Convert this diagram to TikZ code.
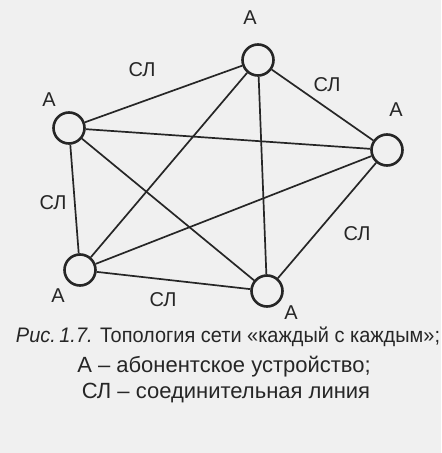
\documentclass[tikz,border=0pt]{standalone}
\usepackage{fontspec}
\setmainfont{Liberation Sans}
\newfontfamily\narrowfont[FakeStretch=0.95]{Liberation Sans}
\usepackage{tikz}

\begin{document}
\begin{tikzpicture}[x=1pt,y=-1pt,
  every node/.style={font=\fontsize{20}{22}\selectfont,text=black!85,inner sep=1pt},
  abon/.style={circle,draw=black!85,line width=2.6pt,minimum size=31pt,inner sep=0pt},
  link/.style={draw=black!85,line width=1.7pt}]
\fill[black!6] (0,0) rectangle (441,453);
% abonent devices
\node[abon] (top) at (258,60) {};
\node[abon] (lft) at (69,128) {};
\node[abon] (rgt) at (387,150) {};
\node[abon] (blft) at (80,270) {};
\node[abon] (bot) at (267,291) {};
% connecting lines, every pair
\draw[link] (top) -- (lft);
\draw[link] (top) -- (rgt);
\draw[link] (top) -- (blft);
\draw[link] (top) -- (bot);
\draw[link] (lft) -- (rgt);
\draw[link] (lft) -- (blft);
\draw[link] (lft) -- (bot);
\draw[link] (rgt) -- (blft);
\draw[link] (rgt) -- (bot);
\draw[link] (blft) -- (bot);
% labels
\node (ltop) at (250,18) {А};
\node (llft) at (49,100) {А};
\node (lrgt) at (396,110) {А};
\node (lblft) at (58,296) {А};
\node (lbot) at (291,313) {А};
\node (s1) at (142,70) {СЛ};
\node (s2) at (327,85) {СЛ};
\node (s3) at (53,203) {СЛ};
\node (s4) at (357,234) {СЛ};
\node (s5) at (163,300) {СЛ};
% caption
\node (cap1) at (228,337) {\narrowfont\fontsize{21}{23}\selectfont\textit{Рис.\,1.7.} Топология сети «каждый с каждым»;};
\node (cap2) at (224,367) {\fontsize{22}{24}\selectfont А – абонентское устройство;};
\node (cap3) at (226,393) {\fontsize{22}{24}\selectfont СЛ – соединительная линия};
\end{tikzpicture}
\end{document}
